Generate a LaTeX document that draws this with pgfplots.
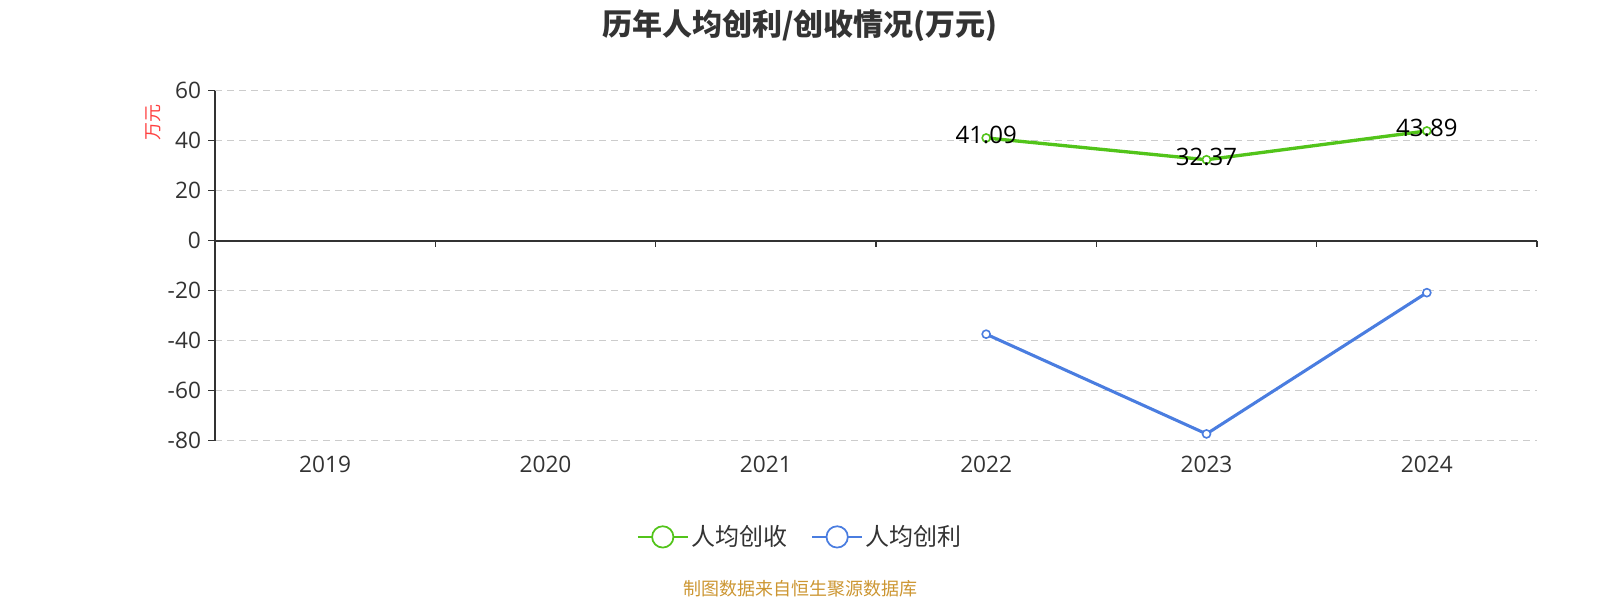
\documentclass[border=0pt]{standalone}
\usepackage{pgfplots}
\pgfplotsset{compat=1.18}
\usepackage{pgfplotstable}
\usepackage{fontspec}
\setmainfont{Open Sans}
\newfontfamily\cjk{Noto Sans CJK SC}
\definecolor{cgreen}{RGB}{82,196,26}
\definecolor{cblue}{RGB}{74,125,224}
\definecolor{ctext}{RGB}{51,51,51}
\definecolor{cgrid}{RGB}{204,204,204}
\definecolor{cred}{RGB}{255,64,64}
\definecolor{csrc}{RGB}{204,150,50}
\pgfplotstableread{
x y lab
3 41.09 41.09
4 32.37 32.37
5 43.89 43.89
}\revenue
\pgfplotstableread{
x y
3 -37.4
4 -77.3
5 -20.8
}\profit
\begin{document}
\begin{tikzpicture}
\useasboundingbox (0,0) rectangle (1200pt,450pt);
\node[font=\cjk\bfseries\fontsize{22.5}{26}\selectfont, text=ctext] at (600pt,431pt) {历年人均创利/创收情况(万元)};
\node[font=\cjk\fontsize{13.5}{16}\selectfont, text=csrc] at (600pt,8.8pt) {制图数据来自恒生聚源数据库};
\begin{axis}[
  at={(161.25pt,119.5pt)}, anchor=south west,
  scale only axis, width=991.5pt, height=262.5pt,
  xmin=-0.5, xmax=5.5, ymin=-80, ymax=60,
  axis lines*=left,
  x axis line style={draw=none},
  y axis line style={draw=ctext, line width=1.1pt},
  xtick={0,1,2,3,4,5},
  xticklabels={2019,2020,2021,2022,2023,2024},
  xtick style={draw=none},
  ytick={-80,-60,-40,-20,0,20,40,60},
  tick align=outside,
  ytick style={draw=ctext, line width=1.1pt},
  major tick length=5pt,
  ymajorgrids,
  grid style={cgrid, dash pattern=on 5pt off 4pt, line width=0.75pt},
  /pgf/number format/assume math mode=true,
  tick label style={font=\fontsize{17}{20}\selectfont, text=ctext},
  xticklabel style={yshift=-3pt},
  yticklabel style={xshift=-2pt},
  ylabel={\cjk 万元},
  ylabel style={font=\fontsize{13.5}{16}\selectfont, text=cred, at={(rel axis cs:-0.047,0.91)}, anchor=center},
  clip=false,
  legend columns=2,
  legend style={at={(rel axis cs:0.443,-0.275)}, anchor=center, draw=none, fill=none,
    font=\cjk\fontsize{18}{21}\selectfont, text=ctext,
    /tikz/every even column/.append style={column sep=16pt}},
  legend image code/.code={
    \draw[#1, line width=1.3pt] (0pt,0pt) -- (37.5pt,0pt);
    \draw[#1, line width=1.3pt, fill=white] (18.75pt,0pt) circle (8pt);
  },
]
\addplot[cgreen, line width=2.5pt, mark=*, mark size=3pt, mark options={fill=white, draw=cgreen, line width=1.2pt},
  nodes near coords, point meta=explicit symbolic,
  every node near coord/.style={anchor=center, yshift=2pt, text=black, font=\fontsize{18}{21}\selectfont}]
  table[x=x, y=y, meta=lab] {\revenue};
\addlegendentry{人均创收}
\addplot[cblue, line width=2.3pt, mark=*, mark size=3pt, mark options={fill=white, draw=cblue, line width=1.2pt}]
  table[x=x, y=y] {\profit};
\addlegendentry{人均创利}
\draw[ctext, line width=1.5pt] (axis cs:-0.5,0) -- (axis cs:5.5,0);
\pgfplotsinvokeforeach{0.5,1.5,2.5,3.5,4.5,5.5}{
  \draw[ctext, line width=1.1pt] (axis cs:#1,0) -- ([yshift=-5pt]axis cs:#1,0);
}
\end{axis}
\end{tikzpicture}
\end{document}
